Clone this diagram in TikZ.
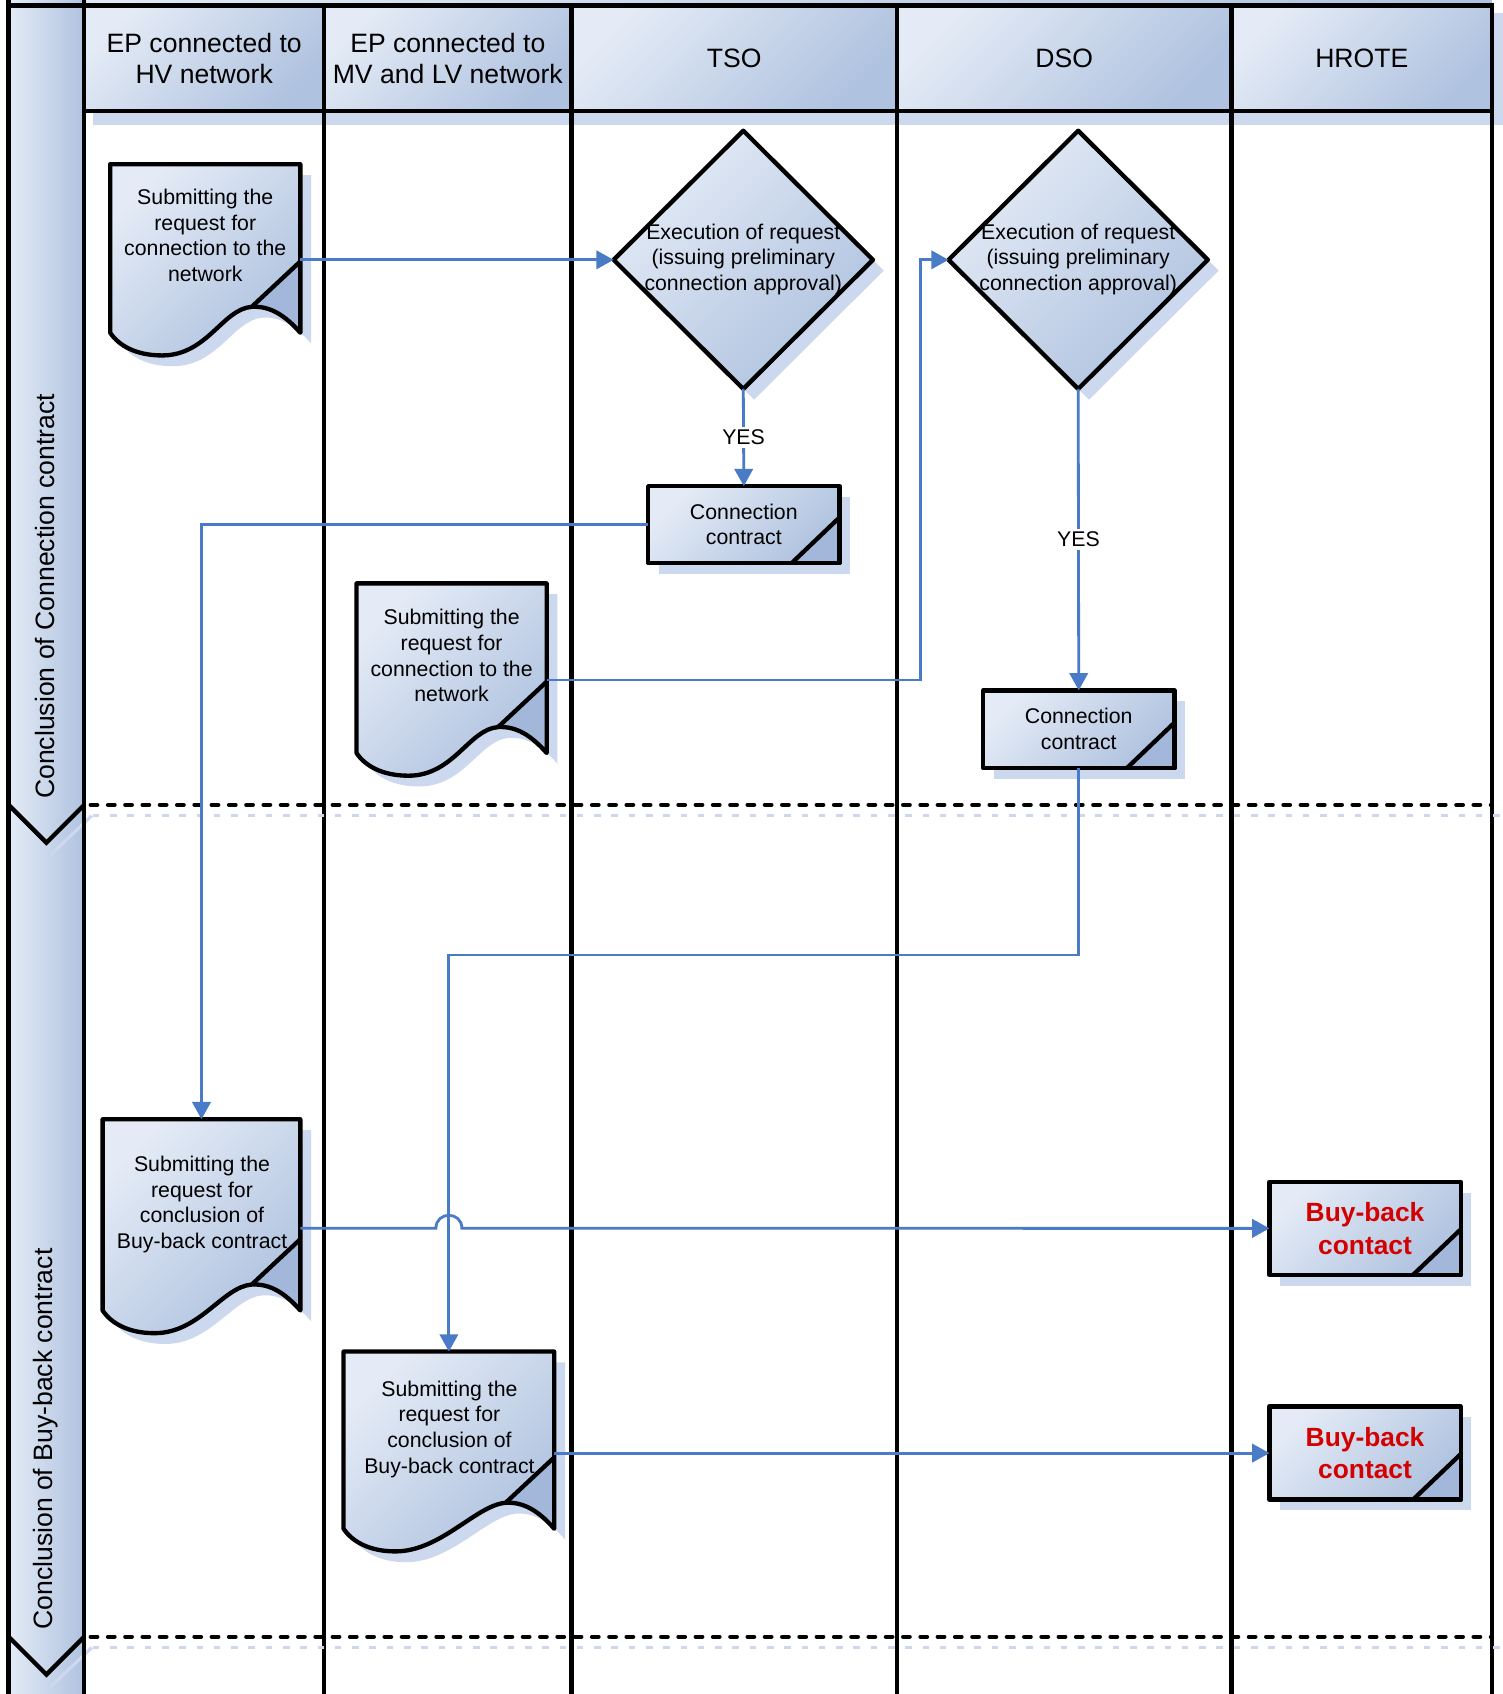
\documentclass[tikz,border=0pt]{standalone}
\usepackage{fontspec}
\setmainfont{Liberation Sans}
\usetikzlibrary{arrows.meta,shapes.geometric,shadows,calc}

\definecolor{gA}{HTML}{E4EBF6}
\definecolor{gB}{HTML}{AFC2DF}
\definecolor{shd}{HTML}{CCD8EE}
\definecolor{foldc}{HTML}{A3B7DA}
\definecolor{flowc}{HTML}{4A7BC6}
\definecolor{redtxt}{HTML}{D40000}

\newcommand\hdrfont{\fontsize{12.3}{14.5}\selectfont}
\newcommand\docfont{\fontsize{9.85}{11.9}\selectfont}
\newcommand\bbfont{\fontsize{12.2}{15}\selectfont\bfseries}

% document shape: name, L, T, R, B
\newcommand\docshape[5]{%
  \path[docfill] (#2,#3) -- (#4,#3) -- (#4,#5)
    .. controls (#4-14,#5-16) and (#4-28,#5-25) .. (#4-45,#5-24)
    .. controls (#4-72,#5-22) and (#2+90,#5+21) .. (#2+48,#5+21)
    .. controls (#2+24,#5+21) and (#2+8,#5+12) .. (#2,#5) -- cycle;
  \fill[foldc] (#4-45,#5-24) -- (#4,#5-66) -- (#4,#5)
    .. controls (#4-14,#5-16) and (#4-28,#5-25) .. (#4-45,#5-24) -- cycle;
  \draw[docline] (#2,#3) -- (#4,#3) -- (#4,#5) coordinate (#1se)
    .. controls (#4-14,#5-16) and (#4-28,#5-25) .. (#4-45,#5-24) coordinate (#1crest)
    .. controls (#4-72,#5-22) and (#2+90,#5+21) .. (#2+48,#5+21)
    .. controls (#2+24,#5+21) and (#2+8,#5+12) .. (#2,#5) -- cycle;
  \draw[docline] (#1crest) -- (#4,#5-66);
  \coordinate (#1top) at ({(#2+#4)/2},#3);
  \coordinate (#1out) at (#4,{#3+0.57*(#5-#3)});
}

% folded corner on a box node
\newcommand\boxfold[1]{%
  \fill[foldc] ($(#1.south east)+(-44,0)$) -- ($(#1.south east)+(0,-42)$) -- (#1.south east) -- cycle;
  \draw[docline] ($(#1.south east)+(-44,0)$) -- (#1.south east) -- ($(#1.south east)+(0,-42)$);
  \draw[docline] ($(#1.south east)+(-44,0)$) -- ($(#1.south east)+(0,-42)$);
}

\begin{document}
\begin{tikzpicture}[x=0.5pt,y=-0.5pt,
  lane/.style={line width=2pt},
  grad/.style={top color=gA, bottom color=gB, shading angle=45},
  myshadow/.style={drop shadow={shadow xshift=5pt, shadow yshift=-5pt, fill=shd, opacity=1}},
  docfill/.style={grad, myshadow},
  docline/.style={draw=black, line width=2pt, line join=round},
  hdr/.style={draw, line width=2pt, grad, inner sep=0, outer sep=0, align=center, font=\hdrfont, minimum height=49pt},
  ctbox/.style={draw, line width=2pt, line join=round, grad, myshadow, inner sep=0, outer sep=0, minimum width=88.5pt, align=center},
  decision/.style={diamond, draw, line width=2pt, line join=round, grad, myshadow, inner sep=0, outer sep=0, minimum width=120pt, minimum height=119.5pt},
  doctext/.style={align=center, font=\docfont, inner sep=0},
  flowline/.style={draw=flowc, line width=1.3pt},
  arr/.style={-{Triangle[length=8pt,width=8.5pt]}},
  yes/.style={fill=white, font=\docfont, inner sep=1.5pt},
  dashsep/.style={line width=2pt, line cap=round, dash pattern=on 3pt off 5pt},
  dashshd/.style={draw=shd, line width=1.5pt, dash pattern=on 3pt off 5pt},
  phase/.style={rotate=90, font=\hdrfont, inner sep=0},
]
\useasboundingbox (0,0) rectangle (1391,1568);

% top strip of the pool
\shade[left color=gA, right color=gB] (8,0) rectangle (1381,5);

% phase bars
\shade[left color=gA, right color=gB] (8,1515) rectangle (78,1568);
\shade[left color=gA, right color=gB] (8,745) -- (78,745) -- (78,1515) -- (43,1550) -- (8,1515) -- cycle;
\shade[left color=gA, right color=gB] (8,0) -- (78,0) -- (78,745) -- (43,780) -- (8,745) -- cycle;
\draw[shd, line width=1.5pt] (47,791) -- (85,755);
\draw[shd, line width=1.5pt] (47,1561) -- (85,1525);
\node[phase] (ph1) at (42,552) {Conclusion of Connection contract};
\node[phase] (ph2) at (42,1332) {Conclusion of Buy-back contract};

% header shadow
\fill[shd] (86,12) rectangle (1391,116);

% headers
\node[hdr, minimum width=111pt] (h1) at (189,54) {EP connected to\\HV network};
\node[hdr, minimum width=114.5pt] (h2) at (414.5,54) {EP connected to\\MV and LV network};
\node[hdr, minimum width=150.5pt] (h3) at (679.5,54) {TSO};
\node[hdr, minimum width=155pt] (h4) at (985,54) {DSO};
\node[hdr, minimum width=120.5pt] (h5) at (1260.5,54) {HROTE};

% lanes
\foreach \xx in {300,529,830,1140,1381} \draw[lane] (\xx,5) -- (\xx,1568);
\draw[lane] (78,0) -- (78,1568);
\draw[lane] (8,0) -- (8,1568);
\draw[lane] (8,5) -- (1381,5);
\draw[line width=2pt, line join=miter] (8,745) -- (43,780) -- (78,745);
\draw[line width=2pt, line join=miter] (8,1515) -- (43,1550) -- (78,1515);

% phase separators
\draw[dashshd] (86,755) -- (1391,755);
\draw[dashshd] (86,1525) -- (1391,1525);
\draw[dashsep] (84,745) -- (1381,745);
\draw[dashsep] (84,1515) -- (1381,1515);

% documents
\docshape{d1}{102}{152}{278}{308}
\docshape{d2}{330}{540}{506}{697}
\docshape{d3}{95}{1036}{278}{1213}
\docshape{d4}{318}{1251}{513}{1415}
\node[doctext] (d1t) at (190,218) {Submitting the\\request for\\connection to the\\network};
\node[doctext] (d2t) at (418,607) {Submitting the\\request for\\connection to the\\network};
\node[doctext] (d3t) at (187,1115) {Submitting the\\request for\\conclusion of\\Buy-back contract};
\node[doctext] (d4t) at (416,1323) {Submitting the\\request for\\conclusion of\\Buy-back contract};

% decisions
\node[decision] (tso) at (688,240.5) {};
\node[doctext] (tsot) at (688,240) {Execution of request\\(issuing preliminary\\connection approval)};
\node[decision] (dso) at (998,240.5) {};
\node[doctext] (dsot) at (998,240) {Execution of request\\(issuing preliminary\\connection approval)};

% contract boxes
\node[ctbox, minimum height=35.5pt, font=\docfont] (cc1) at (688.5,485.5) {Connection\\contract};
\boxfold{cc1}
\node[ctbox, minimum height=36pt, font=\docfont] (cc2) at (998.5,675) {Connection\\contract};
\boxfold{cc2}
\node[ctbox, minimum height=43pt, font=\bbfont, text=redtxt] (bb1) at (1263.5,1137) {Buy-back\\contact};
\boxfold{bb1}
\node[ctbox, minimum height=43pt, font=\bbfont, text=redtxt] (bb2) at (1263.5,1345) {Buy-back\\contact};
\boxfold{bb2}

% connectors
\coordinate (fbend) at (998,884);
\draw[flowline, arr] (tso.west -| d1out) -- (tso.west);
\draw[flowline, arr] (tso.south) -- node[yes] (yes1) {YES} (cc1.north);
\draw[flowline, arr] (cc1.west) -| (d3top);
\draw[flowline, arr] (d2out) -| ([xshift=-13pt]dso.west) -- (dso.west);
\draw[flowline, arr] (dso.south) -- node[yes] (yes2) {YES} (cc2.north);
\draw[flowline, arr] (cc2.south) -- (cc2.south |- fbend) -| (d4top);
\draw[flowline, arr] (d3out) -- ($(d4top |- d3out)+(-12,0)$)
   .. controls ($(d4top |- d3out)+(-12,-16)$) and ($(d4top |- d3out)+(12,-16)$) .. ($(d4top |- d3out)+(12,0)$)
   -- (bb1.west);
\draw[flowline, arr] (bb2.west -| d4out) -- (bb2.west);
\end{tikzpicture}
\end{document}
